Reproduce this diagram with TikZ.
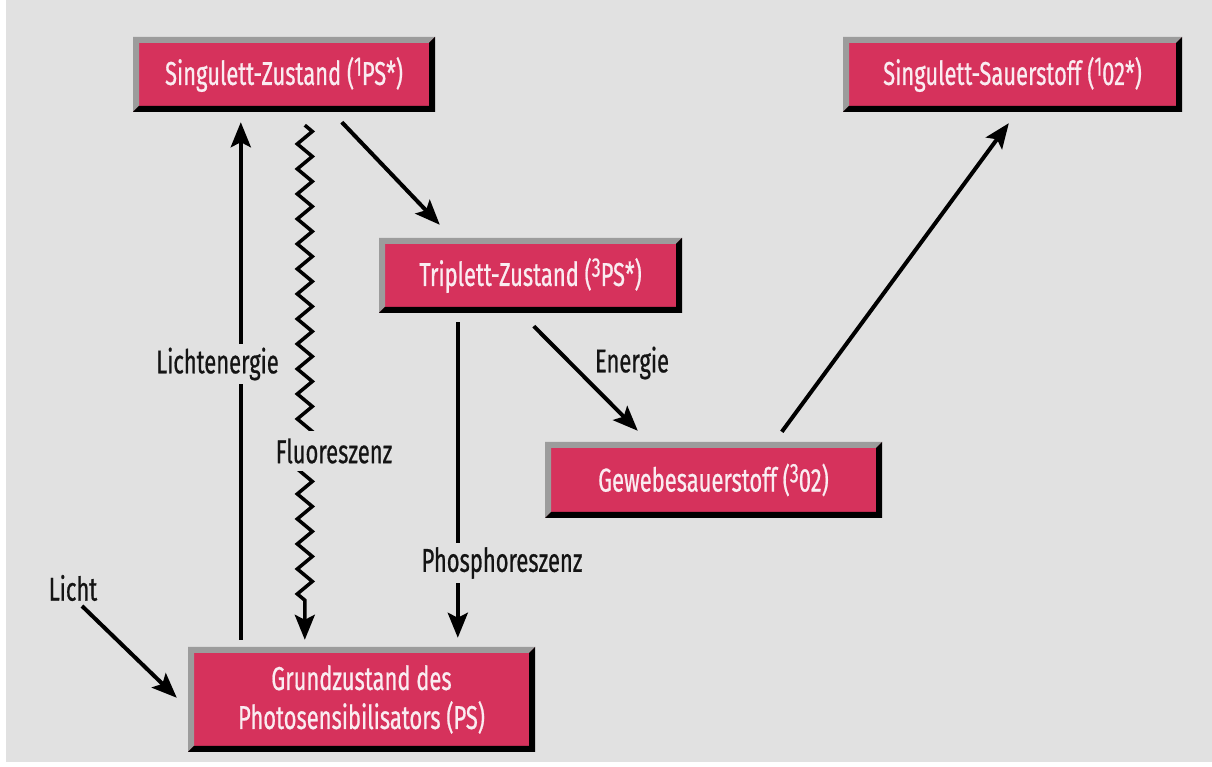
\documentclass[tikz,border=0pt]{standalone}
\usepackage{fontspec}
\setmainfont{Fira Sans}[FakeStretch=0.665,FakeBold=0.6]
\usetikzlibrary{arrows.meta,decorations.pathmorphing,calc}
\definecolor{bgcol}{RGB}{225,225,225}
\definecolor{boxpink}{RGB}{214,50,92}
\definecolor{boxtext}{RGB}{250,236,241}
\definecolor{bevgray}{RGB}{156,156,156}
\definecolor{inkcol}{RGB}{20,20,20}
\newcommand\supx[1]{\raisebox{0.28em}{\fontsize{27}{27}\selectfont #1}}
\tikzset{
  bevbox/.style={fill=boxpink, text=boxtext, inner sep=0pt, align=center,
    font=\fontsize{33}{39}\selectfont,
    path picture={
      \def\pp{path picture bounding box}
      \fill[bevgray] (\pp.south west) -- (\pp.north west) -- (\pp.north east)
        -- ([shift={(-6pt,-6pt)}]\pp.north east) -- ([shift={(6pt,-6pt)}]\pp.north west)
        -- ([shift={(6pt,6pt)}]\pp.south west) -- cycle;
      \fill[black] (\pp.south west) -- (\pp.south east) -- (\pp.north east)
        -- ([shift={(-6pt,-6pt)}]\pp.north east) -- ([shift={(-6pt,6pt)}]\pp.south east)
        -- ([shift={(6pt,6pt)}]\pp.south west) -- cycle;
    }},
  lbl/.style={fill=bgcol, text=inkcol, inner xsep=2pt, inner ysep=0pt, minimum height=40pt,
    font=\fontsize{33}{36}\selectfont},
  arr/.style={draw=black, line width=4pt, -{Stealth[length=25pt,width=20pt,inset=5pt]}},
  wavy/.style={draw=black, line width=3.5pt, decorate,
    decoration={zigzag, segment length=25pt, amplitude=7.5pt, post length=30pt},
    -{Stealth[length=25pt,width=20pt,inset=5pt]}}
}
\begin{document}
\begin{tikzpicture}[x=1pt,y=1pt]
\useasboundingbox (0,0) rectangle (1212,767);
\fill[white] (0,0) rectangle (1212,767);
\fill[bgcol] (6,5) rectangle (1212,767);

\node[bevbox, minimum width=302pt, minimum height=75pt] (n1) at (284,692.5) {Singulett-Zustand (\supx{1}PS*)};
\node[bevbox, minimum width=303pt, minimum height=75pt] (n2) at (530.5,491.5) {Triplett-Zustand (\supx{3}PS*)};
\node[bevbox, minimum width=347pt, minimum height=105pt] (n3) at (361.5,67.5) {Grundzustand des\\Photosensibilisators (PS)};
\node[bevbox, minimum width=337pt, minimum height=76pt] (n4) at (713.5,287) {Gewebesauerstoff (\supx{3}02)};
\node[bevbox, minimum width=339pt, minimum height=75pt] (n5) at (1012.5,692.5) {Singulett-Sauerstoff (\supx{1}02*)};

\coordinate (licht) at (82,161);

\draw[arr] ([shift={(53pt,7pt)}]n3.north west) -- ([shift={(108pt,-10pt)}]n1.south west);
\draw[wavy] ([shift={(172pt,-13pt)}]n1.south west) -- ([shift={(117pt,7pt)}]n3.north west);
\draw[arr] ([shift={(209pt,-10pt)}]n1.south west) -- ([shift={(61pt,13pt)}]n2.north west);
\draw[arr] ([shift={(79pt,-9pt)}]n2.south west) -- ([shift={(270pt,9pt)}]n3.north west);
\draw[arr] ([shift={(155pt,-13pt)}]n2.south west) -- ([shift={(93pt,11pt)}]n4.north west);
\draw[arr] ([shift={(237pt,10pt)}]n4.north west) -- ([shift={(166pt,-11pt)}]n5.south west);
\draw[arr] (licht) -- ([shift={(-11pt,-51pt)}]n3.north west);

\node[lbl] (l1) at (217.5,403) {Lichtenergie};
\node[lbl] (l2) at (334,316) {Fluoreszenz};
\node[lbl] (l3) at (502,204) {Phosphoreszenz};
\node[lbl, fill=none] (l4) at (632,404) {Energie};
\node[lbl, fill=none] (l5) at (73,179) {Licht};
\end{tikzpicture}
\end{document}
